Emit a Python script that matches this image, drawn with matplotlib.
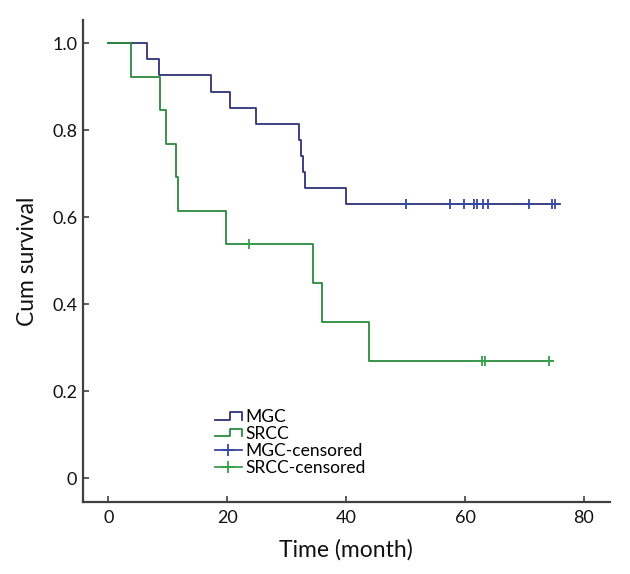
import matplotlib
matplotlib.use("Agg")
import matplotlib.pyplot as plt
from matplotlib.lines import Line2D
from matplotlib.legend_handler import HandlerBase

# ---- data ----
mgc_times = [0, 6.5, 8.5, 17.2, 20.5, 24.8, 32.1, 32.4, 32.8, 33.1, 40.0, 76.0]
mgc_surv = [1.0, 0.963, 0.926, 0.889, 0.852, 0.815, 0.778, 0.741, 0.704, 0.667, 0.630, 0.630]
mgc_cens_t = [50.1, 57.5, 59.9, 61.6, 62.1, 63.1, 63.8, 70.7, 74.6, 75.2]
mgc_cens_s = [0.630] * len(mgc_cens_t)

srcc_times = [0, 3.8, 8.7, 9.7, 11.4, 11.7, 19.8, 34.5, 35.9, 43.9, 74.8]
srcc_surv = [1.0, 0.923, 0.846, 0.769, 0.692, 0.615, 0.538, 0.449, 0.359, 0.269, 0.269]
srcc_cens_t = [23.7, 62.8, 63.3, 74.2]
srcc_cens_s = [0.538, 0.269, 0.269, 0.269]

x_ticks = [0, 20, 40, 60, 80]
y_ticks = [0, 0.2, 0.4, 0.6, 0.8, 1.0]
y_tick_labels = ["0", "0.2", "0.4", "0.6", "0.8", "1.0"]

legend_labels = ["MGC", "SRCC", "MGC-censored", "SRCC-censored"]

mgc_col = "#2e3476"
mgc_cens_col = "#3646a3"
srcc_col = "#2a8a3e"
srcc_cens_col = "#35a048"
axis_col = "#404040"

plt.rcParams['font.family'] = ['Lato', 'DejaVu Sans']

fig = plt.figure(figsize=(6.30, 5.74), dpi=100)
ax = fig.add_axes([0.1313, 0.1254, 0.837, 0.8397])

ax.plot(mgc_times, mgc_surv, drawstyle="steps-post", color=mgc_col, lw=1.3)
ax.plot(srcc_times, srcc_surv, drawstyle="steps-post", color=srcc_col, lw=1.3)
ax.plot(mgc_cens_t, mgc_cens_s, ls="none", marker="+", ms=7, mew=1.3, color=mgc_cens_col)
ax.plot(srcc_cens_t, srcc_cens_s, ls="none", marker="+", ms=7, mew=1.3, color=srcc_cens_col)

ax.set_xlim(-4.3, 84.4)
ax.set_ylim(-0.0552, 1.0536)
ax.set_xticks(x_ticks)
ax.set_yticks(y_ticks)
ax.set_yticklabels(y_tick_labels)

for s in ["top", "right"]:
    ax.spines[s].set_visible(False)
for s in ["left", "bottom"]:
    ax.spines[s].set_color(axis_col)
    ax.spines[s].set_linewidth(1.6)

ax.tick_params(axis="x", direction="in", length=4, width=1.2, color=axis_col,
               labelsize=13, pad=6, labelcolor="#111111")
ax.tick_params(axis="y", direction="in", length=4, width=1.2, color=axis_col,
               labelsize=13, pad=4, labelcolor="#111111")

ax.set_xlabel("Time (month)", fontsize=16.5, labelpad=9, color="#111111")
ax.set_ylabel("Cum survival", fontsize=16.5, labelpad=10, color="#111111")


class StepHandler(HandlerBase):
    def create_artists(self, legend, orig_handle, xdescent, ydescent,
                       width, height, fontsize, trans):
        x0 = -xdescent
        y0 = -ydescent
        xs = [x0, x0 + width * 0.55, x0 + width * 0.55, x0 + width, x0 + width]
        ys = [y0 + height * 0.2, y0 + height * 0.2, y0 + height * 0.8,
              y0 + height * 0.8, y0 + height * 0.2]
        ln = Line2D(xs, ys, color=orig_handle.get_color(), lw=1.3, transform=trans)
        return [ln]


h_mgc = Line2D([], [], color=mgc_col)
h_srcc = Line2D([], [], color=srcc_col)
h_mgc_c = Line2D([], [], color=mgc_cens_col, marker="+", ms=8, mew=1.3, lw=1.3)
h_srcc_c = Line2D([], [], color=srcc_cens_col, marker="+", ms=8, mew=1.3, lw=1.3)

leg = fig.legend([h_mgc, h_srcc, h_mgc_c, h_srcc_c], legend_labels,
                 handler_map={h_mgc: StepHandler(), h_srcc: StepHandler()},
                 loc="upper left", bbox_to_anchor=(215 / 630, 1 - 409 / 574),
                 frameon=False, fontsize=12.5, handlelength=1.55,
                 handletextpad=0.2, labelspacing=0.05, borderpad=0.0,
                 borderaxespad=0.0)

fig.savefig("out.png", dpi=100)
